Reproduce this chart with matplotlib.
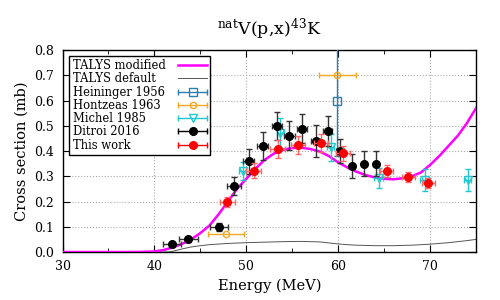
import numpy as np
import matplotlib
matplotlib.use('Agg')
from matplotlib import pyplot as plt
from matplotlib.lines import Line2D
from matplotlib.legend_handler import HandlerLine2D, HandlerTuple
from matplotlib.ticker import MultipleLocator

plt.rcParams['font.family'] = 'DejaVu Serif'
plt.rcParams['mathtext.fontset'] = 'dejavuserif'

# TALYS curves
talys_mod_e = [30, 38, 40, 41, 42, 43, 44, 45, 46, 47, 48, 49, 50, 51, 52, 53, 54, 55, 56, 57,
               58, 59, 60, 61, 62, 63, 64, 65, 66, 67, 68, 69, 70, 71, 72, 73, 74, 75]
talys_mod_s = [0, 0, 0.002, 0.008, 0.018, 0.032, 0.05, 0.075, 0.105, 0.15, 0.20, 0.25, 0.29, 0.33,
               0.365, 0.39, 0.405, 0.412, 0.413, 0.408, 0.398, 0.38, 0.355, 0.335, 0.318, 0.305,
               0.295, 0.29, 0.288, 0.292, 0.3, 0.315, 0.345, 0.38, 0.42, 0.46, 0.51, 0.57]
talys_def_e = [30, 41.5, 42, 43, 44, 45, 46, 48, 50, 52, 54, 56, 58, 59, 60, 61, 62, 64, 66, 68,
               70, 72, 74, 75]
talys_def_s = [0, 0, 0.003, 0.012, 0.02, 0.025, 0.029, 0.034, 0.037, 0.039, 0.041, 0.042, 0.04,
               0.036, 0.032, 0.029, 0.027, 0.025, 0.025, 0.027, 0.031, 0.037, 0.045, 0.05]

# Heininger 1956
hein_e = [59.9]
hein_s = [0.60]
hein_ds = [0.22]

# Hontzeas 1963
hont_e = [47.8, 59.9]
hont_s = [0.07, 0.70]
hont_de = [2.0, 2.0]

# Michel 1985
mich_e = [49.6, 53.7, 59.2, 64.4, 69.45, 74.1]
mich_s = [0.322, 0.47, 0.415, 0.294, 0.285, 0.285]
mich_de = [0.4, 0.4, 0.4, 0.45, 0.5, 0.4]
mich_ds = [0.035, 0.06, 0.053, 0.04, 0.045, 0.043]

# Ditroi 2016
dit_e = [41.9, 43.7, 47.0, 48.7, 50.25, 51.8, 53.3, 54.7, 56.1, 57.55, 58.85, 60.2, 61.55,
         62.85, 64.15]
dit_s = [0.03, 0.05, 0.10, 0.261, 0.359, 0.421, 0.50, 0.461, 0.488, 0.44, 0.48, 0.40, 0.341,
         0.35, 0.35]
dit_de = [1.0, 1.0, 1.0, 0.75, 0.63, 0.6, 0.55, 0.55, 0.55, 0.5, 0.5, 0.4, 0, 0, 0]
dit_ds = [0.01, 0.01, 0.015, 0.035, 0.048, 0.055, 0.055, 0.058, 0.058, 0.062, 0.06, 0.046,
          0.048, 0.05, 0.05]

# This work
tw_e = [47.95, 50.8, 53.4, 55.6, 58.15, 60.55, 65.3, 67.65, 69.8]
tw_s = [0.199, 0.322, 0.407, 0.424, 0.433, 0.391, 0.321, 0.298, 0.272]
tw_de = [0.78, 0.78, 0.78, 0.78, 0.78, 0.75, 0.72, 0.72, 0.72]
tw_ds = [0.02, 0.03, 0.035, 0.035, 0.035, 0.03, 0.022, 0.02, 0.02]

fig = plt.figure(figsize=(5, 3), dpi=100)
ax = fig.add_axes([0.125, 0.16, 0.827, 0.673])

h_mod, = ax.plot(talys_mod_e, talys_mod_s, color='#ff00ff', lw=1.8, zorder=3)
h_def, = ax.plot(talys_def_e, talys_def_s, color='#555555', lw=0.7, zorder=2)

ax.errorbar(hein_e, hein_s, yerr=hein_ds, fmt='s', ms=6, mfc='none', mec='#2a7fb0',
            ecolor='#2a7fb0', elinewidth=1, capsize=2, mew=1, zorder=4)
ax.errorbar(hont_e, hont_s, xerr=hont_de, fmt='o', ms=4.5, mfc='none', mec='#f5a623',
            ecolor='#f5a623', elinewidth=1, capsize=2, mew=1, zorder=4)
ax.errorbar(mich_e, mich_s, xerr=mich_de, yerr=mich_ds, fmt='v', ms=5.5, mfc='none',
            mec='#20c8d0', ecolor='#20c8d0', elinewidth=1, capsize=2, mew=1, zorder=4)
ax.errorbar(dit_e, dit_s, xerr=dit_de, yerr=dit_ds, fmt='o', ms=5.5, color='black',
            ecolor='#333333', elinewidth=1, capsize=2, zorder=5)
ax.errorbar(tw_e, tw_s, xerr=tw_de, yerr=tw_ds, fmt='o', ms=5.5, color='#ff0000',
            ecolor='#ff6666', elinewidth=1, capsize=2, zorder=6)

ax.set_xlim(30, 75)
ax.set_ylim(0, 0.8)
ax.xaxis.set_major_locator(MultipleLocator(10))
ax.xaxis.set_minor_locator(MultipleLocator(5))
ax.yaxis.set_major_locator(MultipleLocator(0.1))
ax.yaxis.set_major_formatter(matplotlib.ticker.FormatStrFormatter('%.1f'))
ax.tick_params(which='both', direction='in', top=True, right=True, labelsize=9, pad=6)
ax.tick_params(which='major', length=5)
ax.tick_params(which='minor', length=3)
ax.grid(True, which='major', ls=':', color='#aaaaaa', lw=0.8)
for s in ax.spines.values():
    s.set_linewidth(1)

ax.set_xlabel('Energy (MeV)', fontsize=10.5)
ax.set_ylabel('Cross section (mb)', fontsize=10.5)
ax.set_title(r'$^{\mathrm{nat}}$V(p,x)$^{43}$K', fontsize=12.5, pad=11)

# gnuplot-like key samples: horizontal bar with end caps and the point in the middle
handler_map = {}
def key_sample(color, marker, ms, mfc):
    bar = Line2D([], [], color=color, lw=1)
    caps = Line2D([], [], color=color, marker='|', ms=5, ls='none')
    pt = Line2D([], [], color=color, marker=marker, ms=ms, mfc=mfc, mec=color, mew=1, ls='none')
    handler_map[caps] = HandlerLine2D(numpoints=2, marker_pad=0)
    return (bar, caps, pt)

handles = [h_mod, h_def,
           key_sample('#2a7fb0', 's', 6, 'none'),
           key_sample('#f5a623', 'o', 4.5, 'none'),
           key_sample('#20c8d0', 'v', 5.5, 'none'),
           key_sample('black', 'o', 5.5, 'black'),
           key_sample('#ff0000', 'o', 5.5, '#ff0000')]
labels = ['TALYS modified', 'TALYS default', 'Heininger 1956', 'Hontzeas 1963',
          'Michel 1985', 'Ditroi 2016', 'This work']
handler_map[tuple] = HandlerTuple(ndivide=1, pad=0)

leg = ax.legend(handles, labels, handler_map=handler_map, loc='upper left',
                bbox_to_anchor=(0.016, 0.972), fontsize=8.3, markerfirst=False,
                fancybox=False, framealpha=1, edgecolor='black', borderaxespad=0,
                handlelength=2.5, labelspacing=0.02, borderpad=0.3, handletextpad=1.1)
leg.get_frame().set_linewidth(1)

# left-align the legend texts (gnuplot style): widen the gap for shorter labels
fig.canvas.draw()
widths = [t.get_window_extent().width for t in leg.texts]
maxw = max(widths)
rows = leg._legend_handle_box.get_children()[0].get_children()
for row, w in zip(rows, widths):
    row.sep += (maxw - w) * 72 / fig.dpi

plt.savefig('out.png', dpi=100)
